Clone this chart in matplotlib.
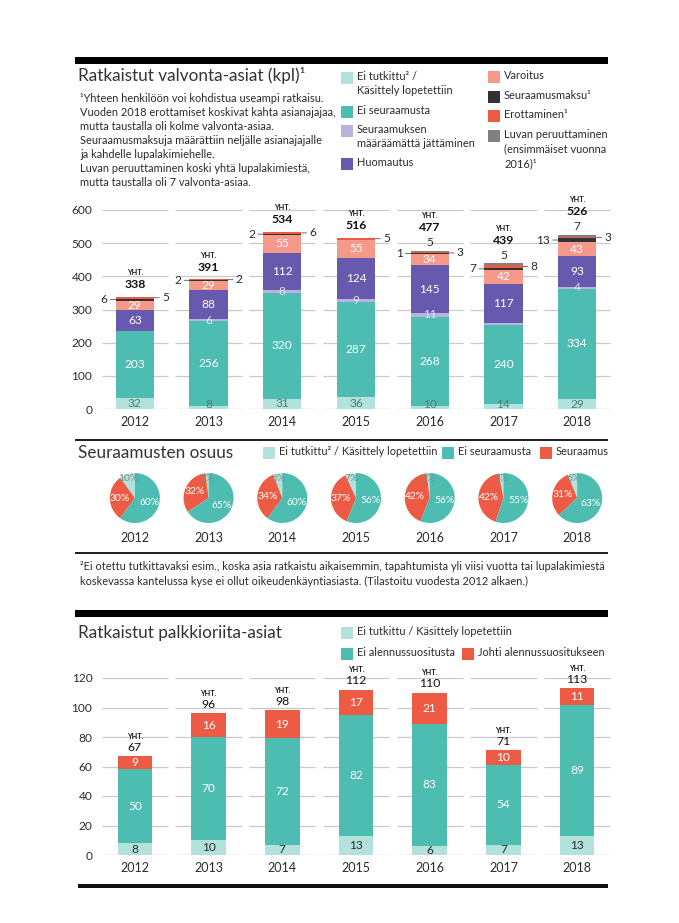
import matplotlib
matplotlib.use("Agg")
import matplotlib.pyplot as plt
from matplotlib.patches import Rectangle
import numpy as np

plt.rcParams['font.family'] = ['Lato', 'DejaVu Sans']

W, H = 679, 923

years = ["2012", "2013", "2014", "2015", "2016", "2017", "2018"]

# Ratkaistut valvonta-asiat (kpl)
ei_tutkittu = [32, 8, 31, 36, 10, 14, 29]
ei_seuraamusta = [203, 256, 320, 287, 268, 240, 334]
maaraamatta = [0, 6, 8, 9, 11, 6, 4]
huomautus = [63, 88, 112, 124, 145, 117, 93]
varoitus = [29, 29, 55, 55, 34, 42, 43]
seuraamusmaksu = [6, 2, 2, 0, 1, 7, 13]
erottaminen = [5, 2, 6, 5, 3, 8, 3]
luvan_peruuttaminen = [0, 0, 0, 0, 5, 5, 7]
yht_valvonta = [338, 391, 534, 516, 477, 439, 526]
maaraamatta_hidden = ["2017"]   # value not printed in the original

# Seuraamusten osuus (%)
osuus_ei_tutkittu = [10, 2, 6, 7, 2, 3, 6]
osuus_ei_seuraamusta = [60, 65, 60, 56, 56, 55, 63]
osuus_seuraamus = [30, 32, 34, 37, 42, 42, 31]

# Ratkaistut palkkioriita-asiat
p_ei_tutkittu = [8, 10, 7, 13, 6, 7, 13]
p_ei_alennus = [50, 70, 72, 82, 83, 54, 89]
p_alennus = [9, 16, 19, 17, 21, 10, 11]
yht_palkkio = [67, 96, 98, 112, 110, 71, 113]

C_LIGHT = "#b3e2dc"
C_TEAL = "#4dbdb1"
C_LAV = "#b9b4dd"
C_PURPLE = "#6659ae"
C_SALMON = "#f59a8b"
C_DARK = "#333333"
C_RED = "#ee5b45"
C_GRAY = "#808080"
TXT = "#2b2b2b"
GRID = "#c9c9c9"
FS = 8.6   # value / tick label size

fig = plt.figure(figsize=(W / 100, H / 100), dpi=100)


def rect(x0, y0, x1, y1):
    return [x0 / W, 1 - y1 / H, (x1 - x0) / W, (y1 - y0) / H]


def ftext(x, y, s, **kw):
    kw.setdefault("color", TXT)
    kw.setdefault("va", "center")
    fig.text(x / W, 1 - y / H, s, **kw)


def fbox(x0, y0, x1, y1, color):
    fig.add_artist(Rectangle((x0 / W, 1 - y1 / H), (x1 - x0) / W, (y1 - y0) / H,
                             transform=fig.transFigure, color=color, lw=0))


def legend_item(x, y, color, label, size=7.9):
    # square lines up with the first text line
    fbox(x, y - 6, x + 12, y + 6, color)
    ftext(x + 16, y - 7, label, fontsize=size, linespacing=1.38, va="top")


def seg_grid(ax, values):
    x = np.arange(len(years))
    for v in values:
        ax.hlines([v] * len(x), x - 0.45, x + 0.45, color="#a9a9a9" if v == 0 else GRID,
                  lw=0.9, zorder=0)


def style_axes(ax):
    for s in ax.spines.values():
        s.set_visible(False)
    ax.tick_params(length=0, labelsize=FS, colors=TXT)
    ax.set_xticks(np.arange(len(years)))
    ax.set_xticklabels(years, fontsize=9)
    ax.tick_params(axis="x", pad=5)
    ax.tick_params(axis="y", pad=4)
    ax.set_xlim(-0.5, 6.5)


# ---------- section 1 ----------
fbox(75, 57, 608, 64, "black")
ftext(78, 76, "Ratkaistut valvonta-asiat (kpl)¹", fontsize=12.3, color="#333333")
notes1 = ["¹Yhteen henkilöön voi kohdistua useampi ratkaisu.",
          "Vuoden 2018 erottamiset koskivat kahta asianajajaa,",
          "mutta taustalla oli kolme valvonta-asiaa.",
          "Seuraamusmaksuja määrättiin neljälle asianajajalle",
          "ja kahdelle lupalakimiehelle.",
          "Luvan peruuttaminen koski yhtä lupalakimiestä,",
          "mutta taustalla oli 7 valvonta-asiaa."]
for k, line in enumerate(notes1):
    ftext(80, 98 + k * 14, line, fontsize=7.9)

legend_item(341, 78, C_LIGHT, "Ei tutkittu² /\nKäsittely lopetettiin")
legend_item(341, 112, C_TEAL, "Ei seuraamusta")
legend_item(341, 131, C_LAV, "Seuraamuksen\nmääräämättä jättäminen")
legend_item(341, 164, C_PURPLE, "Huomautus")
legend_item(488, 77, C_SALMON, "Varoitus")
legend_item(488, 97, C_DARK, "Seuraamusmaksu¹")
legend_item(488, 116, C_RED, "Erottaminen¹")
legend_item(488, 136, C_GRAY, "Luvan peruuttaminen\n(ensimmäiset vuonna\n2016)¹")

ax1 = fig.add_axes(rect(98, 210, 614, 409))
style_axes(ax1)
ax1.set_ylim(0, 600)
ax1.set_yticks(range(0, 601, 100))
seg_grid(ax1, range(0, 601, 100))

x = np.arange(len(years))
bw = 0.52
series1 = [
    (ei_tutkittu, C_LIGHT, "light"),
    (ei_seuraamusta, C_TEAL, "white"),
    (maaraamatta, C_LAV, "lav"),
    (huomautus, C_PURPLE, "white"),
    (varoitus, C_SALMON, "white"),
    (seuraamusmaksu, C_DARK, "left"),
    (erottaminen, C_RED, "right"),
    (luvan_peruuttaminen, C_GRAY, "top"),
]
bottom = np.zeros(len(years))
line_kw = dict(arrowstyle="-", lw=0.6, color="#555555", shrinkA=0, shrinkB=0)
for vals, col, mode in series1:
    vals = np.array(vals, dtype=float)
    ax1.bar(x, vals, bw, bottom=bottom, color=col, zorder=2)
    for i, v in enumerate(vals):
        if v == 0:
            continue
        mid = bottom[i] + v / 2
        lab = str(int(v))
        if mode == "light":
            ax1.text(x[i], max(mid, 15), lab, ha="center", va="center",
                     fontsize=FS, color="#4f7c78", zorder=3)
        elif mode == "white":
            ax1.text(x[i], mid, lab, ha="center", va="center",
                     fontsize=FS, color="white", zorder=3)
        elif mode == "lav":
            if years[i] not in maaraamatta_hidden:
                ax1.text(x[i], mid, lab, ha="center", va="center",
                         fontsize=FS, color="#e4e0f4", zorder=3)
        elif mode == "left":
            ax1.annotate(lab, (x[i] - bw / 2, mid), xytext=(-8, 0),
                         textcoords="offset pixels", ha="right", va="center",
                         fontsize=FS, color=TXT, arrowprops=line_kw)
        elif mode == "right":
            ax1.annotate(lab, (x[i] + bw / 2, mid), xytext=(8, 0),
                         textcoords="offset pixels", ha="left", va="center",
                         fontsize=FS, color=TXT, arrowprops=line_kw)
        elif mode == "top":
            ax1.annotate(lab, (x[i], bottom[i] + v), xytext=(0, 8),
                         textcoords="offset pixels", ha="center", va="center",
                         fontsize=FS, color=TXT)
    bottom += vals

for i, t in enumerate(yht_valvonta):
    off = 23 if luvan_peruuttaminen[i] else 12
    ax1.annotate(str(t), (x[i], bottom[i]), xytext=(0, off), textcoords="offset pixels",
                 ha="center", va="center", fontsize=8.8, fontweight="bold", color="#111111")
    ax1.annotate("YHT.", (x[i], bottom[i]), xytext=(0, off + 12), textcoords="offset pixels",
                 ha="center", va="center", fontsize=5.2, fontweight="bold", color="#111111")

# ---------- section 2 ----------
fbox(75, 439, 608, 441, "#222222")
ftext(78, 453, "Seuraamusten osuus", fontsize=12.3, color="#333333")
legend_item(263, 453, C_LIGHT, "Ei tutkittu² / Käsittely lopetettiin")
legend_item(442, 453, C_TEAL, "Ei seuraamusta")
legend_item(540, 453, C_RED, "Seuraamus")

ax1_x0, ax1_w = 98, 516
for i, yr in enumerate(years):
    cx = ax1_x0 + (i + 0.5) * ax1_w / 7
    r = 25
    axp = fig.add_axes(rect(cx - 1.12 * r, 498 - 1.12 * r, cx + 1.12 * r, 498 + 1.12 * r))
    labs = iter([f"{osuus_ei_tutkittu[i]}%", f"{osuus_seuraamus[i]}%",
                 f"{osuus_ei_seuraamusta[i]}%"])
    wedges, texts, autot = axp.pie(
        [osuus_ei_tutkittu[i], osuus_seuraamus[i], osuus_ei_seuraamusta[i]],
        colors=[C_LIGHT, C_RED, C_TEAL], startangle=90, counterclock=True,
        autopct=lambda p: next(labs), pctdistance=0.6,
        wedgeprops=dict(lw=0), textprops=dict(fontsize=7.4, color="white"))
    px, py = autot[0].get_position()
    autot[0].set_position((px * 0.8 / 0.6, py * 0.8 / 0.6))
    autot[0].set_color("#6f9692")
    axp.set_xlim(-1.12, 1.12)
    axp.set_ylim(-1.12, 1.12)
    axp.text(0, -1.62, yr, ha="center", va="center", fontsize=9, color=TXT)

fbox(75, 552, 608, 553.5, "#222222")
ftext(80, 567, "²Ei otettu tutkittavaksi esim., koska asia ratkaistu aikaisemmin, tapahtumista yli viisi vuotta tai lupalakimiestä",
      fontsize=7.9)
ftext(80, 581, "koskevassa kantelussa kyse ei ollut oikeudenkäyntiasiasta. (Tilastoitu vuodesta 2012 alkaen.)",
      fontsize=7.9)

# ---------- section 3 ----------
fbox(75, 610, 608, 617, "black")
ftext(78, 633, "Ratkaistut palkkioriita-asiat", fontsize=12.3, color="#333333")
legend_item(341, 633, C_LIGHT, "Ei tutkittu / Käsittely lopetettiin")
legend_item(341, 654, C_TEAL, "Ei alennussuositusta")
legend_item(462, 654, C_RED, "Johti alennussuositukseen")

ax3 = fig.add_axes(rect(98, 678, 614, 855))
style_axes(ax3)
ax3.set_ylim(0, 120)
ax3.set_yticks(range(0, 121, 20))
seg_grid(ax3, range(0, 121, 20))

bw3 = 0.47
bottom = np.zeros(len(years))
for vals, col, tcol in [(p_ei_tutkittu, C_LIGHT, TXT),
                        (p_ei_alennus, C_TEAL, "white"),
                        (p_alennus, C_RED, "white")]:
    vals = np.array(vals, dtype=float)
    ax3.bar(x, vals, bw3, bottom=bottom, color=col, zorder=2)
    for i, v in enumerate(vals):
        ax3.text(x[i], bottom[i] + v / 2, str(int(v)), ha="center", va="center",
                 fontsize=FS, color=tcol, zorder=3)
    bottom += vals

for i, t in enumerate(yht_palkkio):
    ax3.annotate(str(t), (x[i], bottom[i]), xytext=(0, 9), textcoords="offset pixels",
                 ha="center", va="center", fontsize=8.8, color="#111111")
    ax3.annotate("YHT.", (x[i], bottom[i]), xytext=(0, 20), textcoords="offset pixels",
                 ha="center", va="center", fontsize=5.2, fontweight="bold", color="#111111")

fbox(78, 884, 608, 888, "#111111")

fig.savefig("out.png", dpi=100, facecolor="white")
